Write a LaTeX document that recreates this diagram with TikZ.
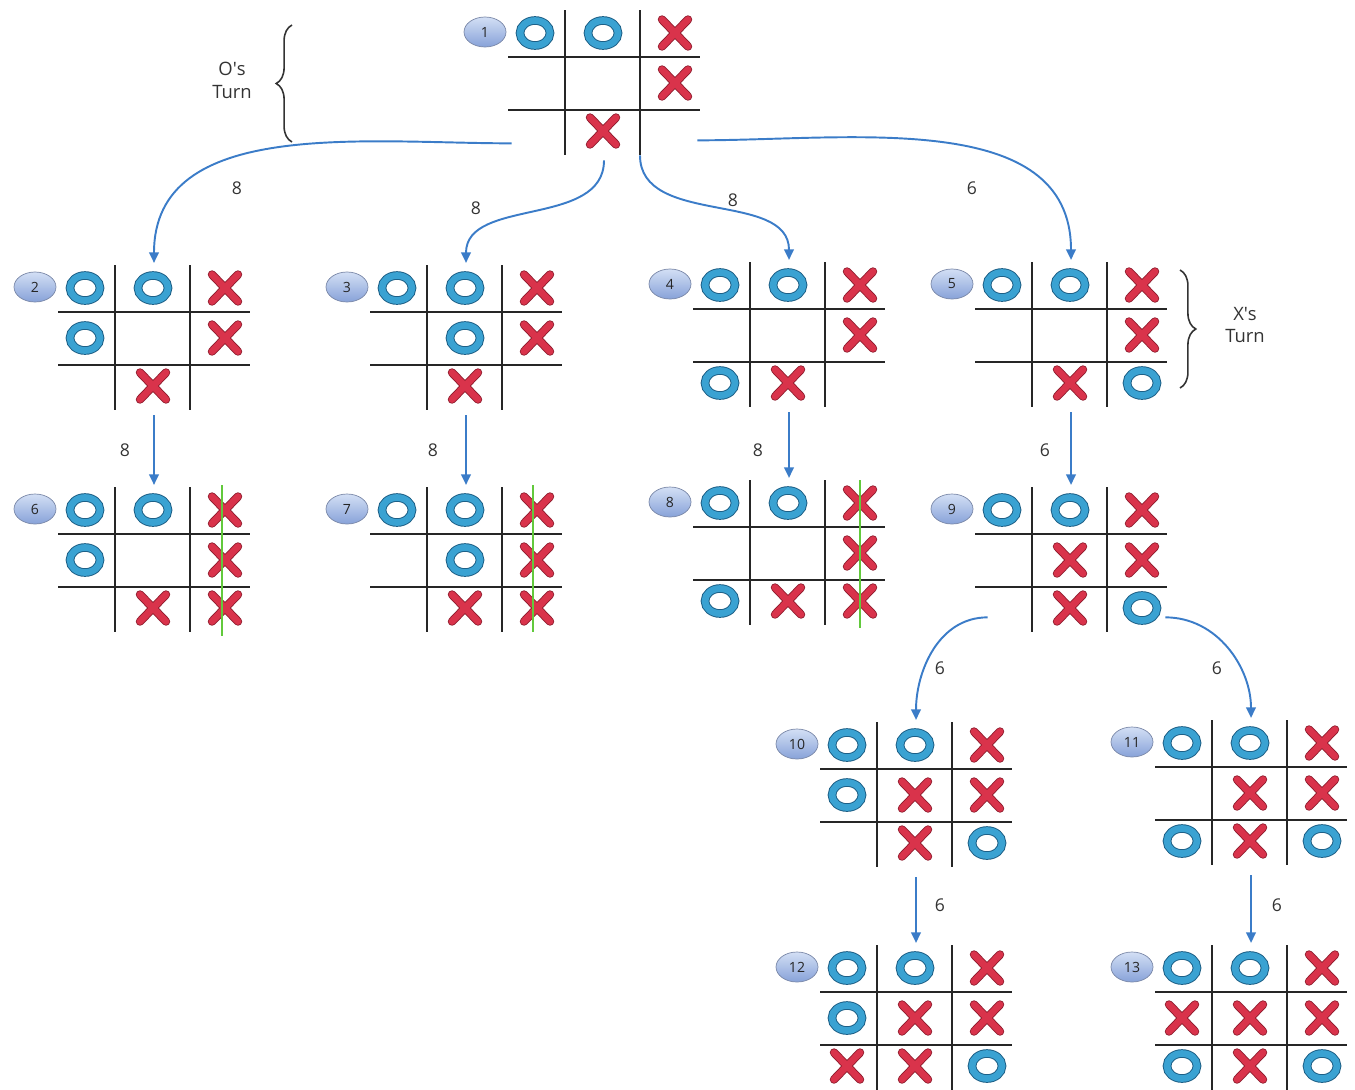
\documentclass[tikz,border=0pt]{standalone}
\usepackage{fontspec}
\setmainfont{Open Sans}
\usetikzlibrary{arrows.meta,decorations.pathreplacing,shapes.geometric}

\definecolor{oblue}{HTML}{3AA2D2}
\definecolor{oline}{HTML}{1D5F86}
\definecolor{xred}{HTML}{D9334B}
\definecolor{xline}{HTML}{8E1C2D}
\definecolor{movecol}{HTML}{3B7CC8}
\definecolor{wincol}{HTML}{62C93C}
\definecolor{badgetop}{HTML}{D3DFF5}
\definecolor{badgebot}{HTML}{87A2D8}
\definecolor{badgeline}{HTML}{7A88A8}

% #1 name, #2 left, #3 top, #4 number, #5 O cells (col/row), #6 X cells (col/row)
\newcommand{\tttboard}[6]{%
  \begin{scope}[shift={(#2,-#3)}]
    \node[boardbox]								(#1)	at (96,-72.5)	{};
    \draw[gridline] (57,0) -- (57,-145) (132,0) -- (132,-145)
                    (0,-47) -- (192,-47) (0,-100) -- (192,-100);
    \node[badge]								(#1n)	at (-23,-22)	{#4};
    \foreach \cx/\ry in {#5}{
      \pgfmathsetmacro\mx{{27,95,167}[\cx-1]}
      \pgfmathsetmacro\my{{23,73,121}[\ry-1]}
      \draw[omark] (\mx,-\my) ellipse [x radius=15,y radius=12.5];
    }
    \foreach \cx/\ry in {#6}{
      \pgfmathsetmacro\mx{{27,95,167}[\cx-1]}
      \pgfmathsetmacro\my{{23,73,121}[\ry-1]}
      \draw[xmark] (\mx-13,-\my+13.5) -- (\mx+13,-\my-13.5)
                   (\mx-13,-\my-13.5) -- (\mx+13,-\my+13.5);
    }
  \end{scope}
}

\begin{document}
\begin{tikzpicture}[x=0.02cm,y=0.02cm,
		boardbox/.style={inner sep=0pt,minimum width=3.84cm,minimum height=2.9cm},
		gridline/.style={line width=1.4pt,draw=black!85},
		omark/.style={draw=oline,double=oblue,line width=0.55pt,double distance=3.8pt},
		xmark/.style={draw=xline,double=xred,line width=0.5pt,double distance=3.8pt,line cap=round},
		badge/.style={ellipse,draw=badgeline,top color=badgetop,bottom color=badgebot,inner sep=0pt,
			minimum width=0.84cm,minimum height=0.6cm,text=black!85,font=\fontsize{8}{9}\selectfont},
		move/.style={draw=movecol,line width=1.1pt,-{Triangle[length=6pt,width=5.5pt]},shorten >=1pt},
		lbl/.style={text=black!80,font=\fontsize{10}{12}\selectfont},
		winline/.style={draw=wincol,line width=1.2pt},
		turnbrace/.style={draw=black!80,line width=0.9pt,decorate,decoration={brace,amplitude=9pt}},
		turnlbl/.style={align=center,text=black!80,font=\fontsize{10.5}{13}\selectfont}]

	\useasboundingbox (0,0) rectangle (1355,-1089);

	\tttboard{b1}{508}{10}{1}{1/1,2/1}{3/1,3/2,2/3}
	\tttboard{b2}{58}{265}{2}{1/1,2/1,1/2}{3/1,3/2,2/3}
	\tttboard{b3}{370}{265}{3}{1/1,2/1,2/2}{3/1,3/2,2/3}
	\tttboard{b4}{693}{262}{4}{1/1,2/1,1/3}{3/1,3/2,2/3}
	\tttboard{b5}{975}{262}{5}{1/1,2/1,3/3}{3/1,3/2,2/3}
	\tttboard{b6}{58}{487}{6}{1/1,2/1,1/2}{3/1,3/2,2/3,3/3}
	\tttboard{b7}{370}{487}{7}{1/1,2/1,2/2}{3/1,3/2,2/3,3/3}
	\tttboard{b8}{693}{480}{8}{1/1,2/1,1/3}{3/1,3/2,2/3,3/3}
	\tttboard{b9}{975}{487}{9}{1/1,2/1,3/3}{3/1,3/2,2/3,2/2}
	\tttboard{b10}{820}{722}{10}{1/1,2/1,1/2,3/3}{3/1,3/2,2/3,2/2}
	\tttboard{b11}{1155}{720}{11}{1/1,2/1,1/3,3/3}{3/1,3/2,2/3,2/2}
	\tttboard{b12}{820}{945}{12}{1/1,2/1,1/2,3/3}{3/1,3/2,2/3,2/2,1/3}
	\tttboard{b13}{1155}{945}{13}{1/1,2/1,1/3,3/3}{3/1,3/2,2/3,2/2,1/2}

	\draw[winline] (222,-485) -- (222,-636);
	\draw[winline] (533,-485) -- (533,-632);
	\draw[winline] (860,-480) -- (860,-628);

	\draw[turnbrace] (292,-142) -- (292,-25);
	\node[turnlbl]									(oturn)	at (232,-80)	{O\textquotesingle s\\Turn};
	\draw[turnbrace] (1180,-270) -- (1180,-388);
	\node[turnlbl]									(xturn)	at (1245,-325)	{X\textquotesingle s\\Turn};

	\draw[move] ([shift={(4,12)}]b1.south west) to[out=180,in=90] (b2.north);
	\draw[move] ([yshift=-0.1cm]b1.south) to[out=-90,in=90] (b3.north);
	\draw[move] ([xshift=0.72cm]b1.south) to[out=-90,in=90] (b4.north);
	\draw[move] ([shift={(-3,15)}]b1.south east) to[out=0,in=90] (b5.north);
	\draw[move] ([yshift=-0.1cm]b2.south) -- (b6.north);
	\draw[move] ([yshift=-0.1cm]b3.south) -- (b7.north);
	\draw[move] ([yshift=-0.1cm]b4.south) -- (b8.north);
	\draw[move] ([yshift=-0.1cm]b5.south) -- (b9.north);
	\draw[move] ([shift={(13,15)}]b9.south west) to[out=180,in=90] (b10.north);
	\draw[move] ([shift={(-2,15)}]b9.south east) to[out=0,in=90] (b11.north);
	\draw[move] ([yshift=-0.2cm]b10.south) -- (b12.north);
	\draw[move] ([yshift=-0.2cm]b11.south) -- (b13.north);

	\node[lbl]	(w12)	at (237,-188)	{8};
	\node[lbl]	(w13)	at (476,-208)	{8};
	\node[lbl]	(w14)	at (733,-200)	{8};
	\node[lbl]	(w15)	at (972,-188)	{6};
	\node[lbl]	(w26)	at (125,-450)	{8};
	\node[lbl]	(w37)	at (433,-450)	{8};
	\node[lbl]	(w48)	at (758,-450)	{8};
	\node[lbl]	(w59)	at (1045,-450)	{6};
	\node[lbl]	(w910)	at (940,-668)	{6};
	\node[lbl]	(w911)	at (1217,-668)	{6};
	\node[lbl]	(w1012)	at (940,-905)	{6};
	\node[lbl]	(w1113)	at (1277,-905)	{6};
\end{tikzpicture}
\end{document}
